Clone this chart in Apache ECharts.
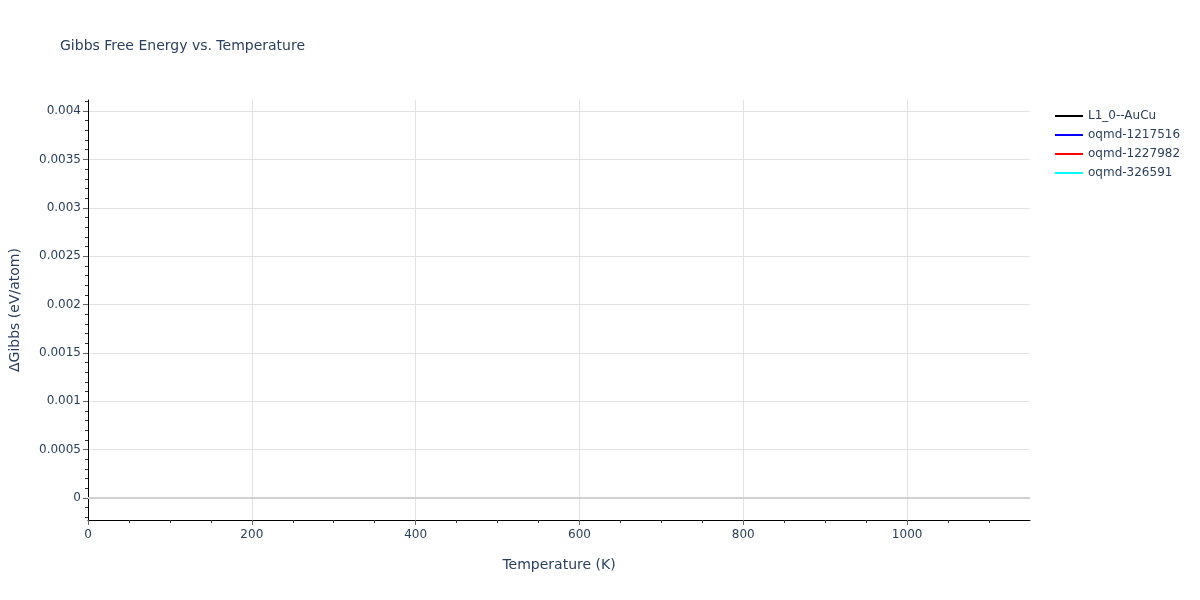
<!DOCTYPE html>
<html>
<head>
<meta charset="utf-8">
<title>Gibbs Free Energy vs. Temperature</title>
<script src="https://cdn.jsdelivr.net/npm/echarts@6/dist/echarts.min.js"></script>
<style>
  html, body { margin: 0; padding: 0; background: #fff; }
  #chart { width: 1200px; height: 600px; }
</style>
</head>
<body>
<div id="chart"></div>
<script>
// series names and their (empty) temperature / dG samples
var seriesNames = ['L1_0--AuCu', 'oqmd-1217516', 'oqmd-1227982', 'oqmd-326591'];
var seriesColors = ['#000000', '#0000ff', '#ff0000', '#00ffff'];
var tempL10AuCu = [];
var tempOqmd1217516 = [];
var tempOqmd1227982 = [];
var tempOqmd326591 = [];
var seriesData = [tempL10AuCu, tempOqmd1217516, tempOqmd1227982, tempOqmd326591];

// axis ranges and tick values
var xRange = [0, 1150];
var yRange = [-0.000227, 0.004114];
var xTicks = [0, 200, 400, 600, 800, 1000];
var yTicks = [0, 0.0005, 0.001, 0.0015, 0.002, 0.0025, 0.003, 0.0035, 0.004];
var zeroLine = 0;

(function () {
  'use strict';
  var chart = echarts.init(document.getElementById('chart'), null, { renderer: 'canvas' });
  var font = 'DejaVu Sans, Verdana, sans-serif';
  var ink = '#2a3f5f';

  var series = seriesNames.map(function (name, i) {
    var s = {
      name: name,
      type: 'line',
      data: seriesData[i],
      showSymbol: false,
      lineStyle: { width: 2, color: seriesColors[i] },
      itemStyle: { color: seriesColors[i] }
    };
    if (i === 0) {
      s.markLine = {
        silent: true,
        symbol: ['none', 'none'],
        label: { show: false },
        lineStyle: { color: '#d0d0d0', width: 2, type: 'solid' },
        data: [{ yAxis: zeroLine }],
        z: 1
      };
    }
    return s;
  });

  var option = {
    animation: false,
    title: {
      text: 'Gibbs Free Energy vs. Temperature',
      left: 55,
      top: 34,
      textStyle: { fontFamily: font, fontSize: 14, fontWeight: 'normal', color: ink }
    },
    legend: {
      orient: 'vertical',
      left: 1055,
      top: 109,
      padding: 0,
      icon: 'rect',
      itemWidth: 28,
      itemHeight: 2,
      itemGap: 5,
      textStyle: { fontFamily: font, fontSize: 12, color: ink, lineHeight: 14 },
      data: seriesNames
    },
    grid: { left: 88, right: 170, top: 100, bottom: 80, containLabel: false },
    xAxis: {
      type: 'value',
      min: xRange[0],
      max: xRange[1],
      name: 'Temperature (K)',
      nameLocation: 'middle',
      nameGap: 38,
      nameTextStyle: { fontFamily: font, fontSize: 14, color: ink },
      axisLine: { show: true, onZero: false, lineStyle: { color: '#000', width: 1 } },
      axisTick: { show: true, length: 5, customValues: xTicks, lineStyle: { color: '#666' } },
      minorTick: { show: true, splitNumber: 4, length: 3, lineStyle: { color: '#333' } },
      axisLabel: {
        customValues: xTicks,
        fontFamily: font, fontSize: 12, color: ink, margin: 9,
        formatter: function (v) { return String(v); }
      },
      splitLine: { show: true, lineStyle: { color: '#e2e2e2', width: 1 } }
    },
    yAxis: {
      type: 'value',
      min: yRange[0],
      max: yRange[1],
      splitNumber: 8,
      name: '\u0394Gibbs (eV/atom)',
      nameLocation: 'middle',
      nameGap: 66,
      nameTextStyle: { fontFamily: font, fontSize: 14, color: ink },
      axisLine: { show: true, onZero: false, lineStyle: { color: '#000', width: 1 } },
      axisTick: { show: true, length: 5, customValues: yTicks, lineStyle: { color: '#666' } },
      minorTick: { show: true, splitNumber: 5, length: 3, lineStyle: { color: '#333' } },
      axisLabel: {
        customValues: yTicks,
        fontFamily: font, fontSize: 12, color: ink, margin: 7,
        formatter: function (v) { return String(+v.toFixed(6)); }
      },
      splitLine: { show: true, lineStyle: { color: '#e2e2e2', width: 1 } }
    },
    series: series
  };

  chart.setOption(option);
  window.addEventListener('resize', function () { chart.resize(); });
})();
</script>
</body>
</html>
